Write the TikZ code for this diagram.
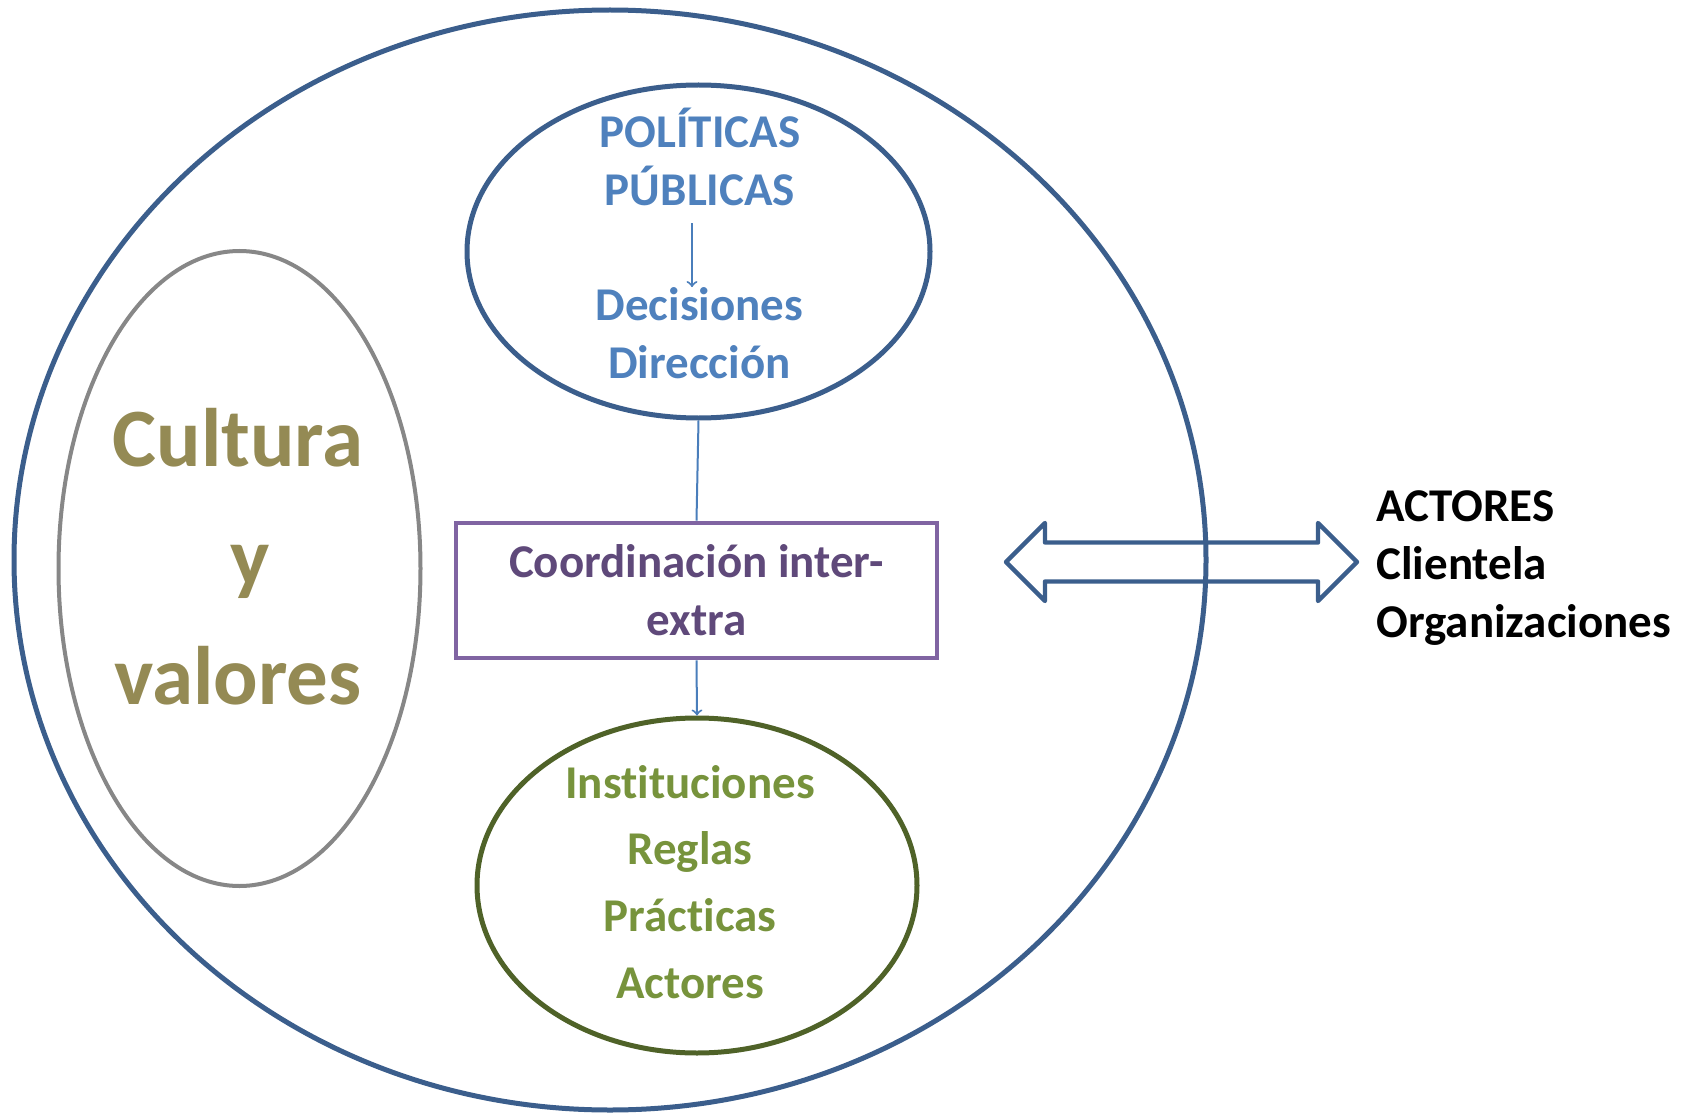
\documentclass[tikz,border=0pt]{standalone}
\usepackage{fontspec}
\setmainfont{Carlito}[Ligatures=NoCommon]
\usetikzlibrary{positioning,arrows,calc,shapes}
\definecolor{azul}{HTML}{3B5E8C}
\definecolor{azulclaro}{HTML}{4F81BD}
\definecolor{linea}{HTML}{4A7EBB}
\definecolor{gris}{HTML}{878787}
\definecolor{morado}{HTML}{8064A2}
\definecolor{moradotxt}{HTML}{5F497A}
\definecolor{oliva}{HTML}{4F6228}
\definecolor{olivatxt}{HTML}{77933C}
\definecolor{cultura}{HTML}{948A54}
\tikzset{elipse/.style={ellipse, draw, line width=2.5pt, inner sep=0pt},
texto/.style={inner sep=0pt, align=center,
    font=\bfseries\fontsize{23.5}{28.85}\selectfont},
conector/.style={draw=linea, line width=1pt}}

\begin{document}
\begin{tikzpicture}[x=0.5pt,y=-0.5pt]
\useasboundingbox (0,0) rectangle (1688,1113);
\node[elipse, draw=azul, minimum width=596pt, minimum height=550pt] (todo) at (610,560) {};
\node[elipse, draw=gris, line width=2pt, minimum width=181pt, minimum height=317.5pt] (cult) at (239.5,568.5) {};
\node[elipse, draw=azul, minimum width=231.5pt, minimum height=166.5pt] (pol) at (698.5,251.5) {};
\node[elipse, draw=oliva, minimum width=220pt, minimum height=167.5pt] (inst) at (697,885.5) {};
\node[texto, draw=morado, line width=2.4pt, text=moradotxt,
  minimum width=240.5pt, minimum height=67.5pt] (coord) at (696.5,590.5) {Coordinación inter-\\extra};

\node[texto, text=azulclaro] (poltxt) at (700,157) {POLÍTICAS\\PÚBLICAS};
\node[texto, text=azulclaro] (dectxt) at (699.5,333) {Decisiones\\Dirección};
\node[texto, text=cultura, font=\bfseries\fontsize{41.5}{59.5}\selectfont] (culttxt) at (238,557) {Cultura\\\hspace*{0.3em}y\\valores};
\node[texto, text=olivatxt, font=\bfseries\fontsize{23.5}{33.35}\selectfont] (insttxt) at (690,882) {Instituciones\\Reglas\\Prácticas\\Actores};
\node[texto, align=left, anchor=west] (act) at (1376,568) {ACTORES\\Clientela\\Organizaciones};

\draw[conector, ->, shorten <=8.5pt] ([xshift=-4pt]poltxt.south) -- ([xshift=-4pt]poltxt.south |- dectxt.north);
\draw[conector] (pol.south) -- (coord.north);
\draw[conector, ->] (coord.south) -- (inst.north);

\coordinate (flecha) at (1006,562);
\draw[azul, line width=2.2pt, line join=round] (flecha) -- ++(39,-39) -- ++(0,19.5) -- ++(273,0)
  -- ++(0,-19.5) -- ++(39,39) -- ++(-39,39) -- ++(0,-19.5) -- ++(-273,0) -- ++(0,19.5) -- cycle;
\end{tikzpicture}
\end{document}
